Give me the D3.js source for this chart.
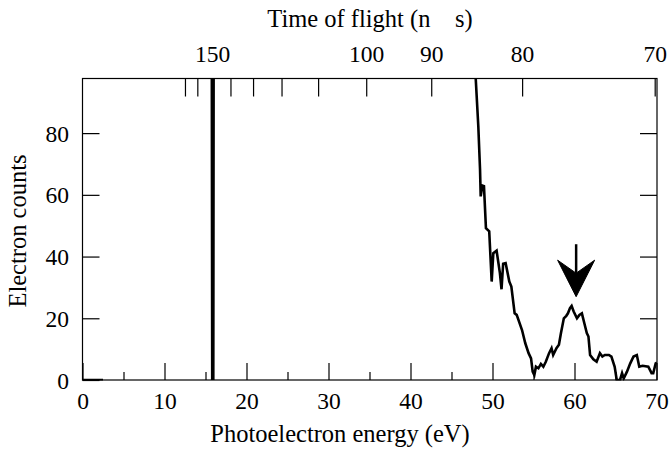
<!DOCTYPE html>
<html>
<head>
<meta charset="utf-8">
<script src="https://cdn.jsdelivr.net/npm/d3@7"></script>
<style>
  body { margin: 0; background: #fff; }
</style>
</head>
<body>
<svg id="chart" width="669" height="451"></svg>
<script>
// Axis ticks
const energyTicks = [0, 10, 20, 30, 40, 50, 60, 70];
const energyMinorTicks = [5, 15, 25, 35, 45, 55, 65];
const countTicks = [0, 20, 40, 60, 80];
const tofTicks = [170, 160, 150, 140, 130, 120, 110, 100, 90, 80, 70];
const tofLabelled = [150, 100, 90, 80, 70];

// Photoelectron spectrum (energy in eV, electron counts); null breaks the trace
const energy = [0, 2.5, null,
  15.82, 15.76, 16.0, 15.95, null,
  47.6, 48.27, 48.48, 48.56, 48.76, 48.96, 49.2, 49.6, 49.9, 50.1, 50.5, 50.9,
  51.1, 51.3, 51.6, 52.05, 52.3, 52.7, 52.95, 53.6, 54.0, 54.4, 54.7, 54.9,
  55.1, 55.3, 55.6, 55.9, 56.2, 56.5, 56.9, 57.2, 57.4, 57.8, 58.1, 58.35,
  58.7, 59.0, 59.2, 59.45, 59.65, 59.9, 60.3, 60.6, 60.9, 61.2, 61.5, 61.7,
  61.9, 62.3, 62.7, 63.1, 63.4, 63.7, 64.2, 64.5, 64.9, 65.15, 65.55, 65.8,
  66.0, 66.4, 66.8, 67.2, 67.6, 67.9, 68.3, 69.0, 69.4, 69.6, 69.9, 70.05];
const counts = [0, 0, null,
  0, 120, 120, 0, null,
  115, 82.2, 68.2, 59.5, 63, 62.8, 49.2, 48.2, 31.9, 41.1, 41.9, 34.7,
  29.4, 37.7, 37.9, 31.9, 30.3, 21.6, 21.1, 16.2, 11.9, 8.7, 7.0, 2.7,
  1.6, 4.3, 3.8, 5.2, 4.3, 5.9, 8.7, 10.3, 8.1, 10.3, 11.4, 15.2,
  20.0, 20.8, 21.6, 23.3, 24.0, 22.2, 20.0, 21.1, 21.6, 18.4, 15.2, 14.1,
  8.1, 6.7, 5.9, 8.7, 7.6, 8.1, 8.1, 7.6, 4.3, 0, 0, 2.2,
  0.5, 2.7, 5.4, 7.6, 8.1, 4.3, 4.6, 4.3, 2.2, 2.2, 5.4, 5.6];

// Marker arrow pointing at the feature near 60 eV
const arrowEnergy = [60.2];
const arrowTipCounts = [27];
const arrowTailCounts = [44];

// Flight time (ns) to kinetic energy (eV)
const tofToEnergy = t => 338000 / (t * t) + 0.8;

const serif = "'Liberation Serif', 'Times New Roman', serif";
const tickFont = 23.5, titleFont = 24.5;

const svg = d3.select("#chart");
const plotLeft = 82.5, plotRight = 657, plotTop = 78.5, plotBottom = 380;

const x = d3.scaleLinear().domain([0, 70]).range([plotLeft, plotLeft + 70 * 8.2]);
const y = d3.scaleLinear().domain([0, 97.7]).range([plotBottom, plotTop]);

svg.append("defs").append("clipPath").attr("id", "plot-clip")
  .append("rect").attr("x", plotLeft).attr("y", plotTop)
  .attr("width", plotRight - plotLeft).attr("height", plotBottom - plotTop + 0.5);

// Spectrum trace
const pts = energy.map((e, i) => [e, counts[i]]);
const line = d3.line()
  .defined(d => d[0] !== null && d[1] !== null)
  .x(d => x(d[0])).y(d => y(d[1]));
svg.append("path")
  .datum(pts)
  .attr("clip-path", "url(#plot-clip)")
  .attr("fill", "none").attr("stroke", "#000")
  .attr("stroke-width", 2.6).attr("stroke-linejoin", "miter")
  .attr("d", line);

// Frame
svg.append("rect")
  .attr("x", plotLeft).attr("y", plotTop)
  .attr("width", plotRight - plotLeft).attr("height", plotBottom - plotTop)
  .attr("fill", "none").attr("stroke", "#000").attr("stroke-width", 1.2);

function styleAxis(g) {
  g.attr("font-family", serif).attr("font-size", tickFont)
    .style("font-family", serif).style("font-size", tickFont + "px");
  g.select(".domain").remove();
  g.selectAll(".tick line").attr("stroke", "#000").attr("stroke-width", 1.2);
  g.selectAll(".tick text")
    .style("font-family", serif).style("font-size", tickFont + "px").attr("fill", "#000");
}

// Bottom axis: energy
svg.append("g").attr("transform", `translate(0,${plotBottom})`)
  .call(d3.axisBottom(x).tickValues(energyTicks).tickSize(-17).tickFormat(d3.format("d")))
  .call(styleAxis)
  .call(g => g.selectAll(".tick text").attr("y", 29).attr("dy", "0"));
svg.append("g").attr("transform", `translate(0,${plotBottom})`)
  .call(d3.axisBottom(x).tickValues(energyMinorTicks).tickSize(-8).tickFormat(""))
  .call(styleAxis);

// Left axis: counts
svg.append("g").attr("transform", `translate(${plotLeft},0)`)
  .call(d3.axisLeft(y).tickValues(countTicks).tickSize(-17).tickFormat(d3.format("d")))
  .call(styleAxis)
  .call(g => g.selectAll(".tick text").attr("x", -13.5).attr("dy", "0.34em"));

// Right axis ticks
svg.append("g").attr("transform", `translate(${plotRight},0)`)
  .call(d3.axisRight(y).tickValues(countTicks.slice(1)).tickSize(-17).tickFormat(""))
  .call(styleAxis);

// Top axis: time of flight, placed through the energy scale
svg.append("g").attr("transform", `translate(0,${plotTop})`)
  .call(d3.axisTop(x)
    .tickValues(tofTicks.map(tofToEnergy))
    .tickSize(-18)
    .tickFormat((e, i) => tofLabelled.includes(tofTicks[i]) ? String(tofTicks[i]) : ""))
  .call(styleAxis)
  .call(g => g.selectAll(".tick text").attr("y", -17).attr("dy", "0"));

// Arrow marker
const ax = x(arrowEnergy[0]), tipY = y(arrowTipCounts[0]), tailY = y(arrowTailCounts[0]);
svg.append("line")
  .attr("x1", ax).attr("x2", ax).attr("y1", tailY).attr("y2", tipY - 20)
  .attr("stroke", "#000").attr("stroke-width", 2.5);
svg.append("path")
  .attr("d", `M${ax},${tipY} L${ax - 18.5},${tipY - 36.5} L${ax},${tipY - 23.5} L${ax + 18.5},${tipY - 36.5} Z`)
  .attr("fill", "#000").attr("stroke", "#000").attr("stroke-width", 1).attr("stroke-linejoin", "miter");

// Axis titles
function title(sel) {
  return sel.style("font-family", serif).style("font-size", titleFont + "px")
    .attr("fill", "#000").attr("text-anchor", "middle");
}
svg.append("text").call(title)
  .attr("x", 340).attr("y", 442)
  .text("Photoelectron energy (eV)");
svg.append("text").call(title)
  .attr("transform", `translate(26,231) rotate(-90)`)
  .text("Electron counts");
svg.append("text").call(title)
  .attr("x", 370).attr("y", 27)
  .style("white-space", "pre")
  .text("Time of flight (n    s)");
</script>
</body>
</html>
